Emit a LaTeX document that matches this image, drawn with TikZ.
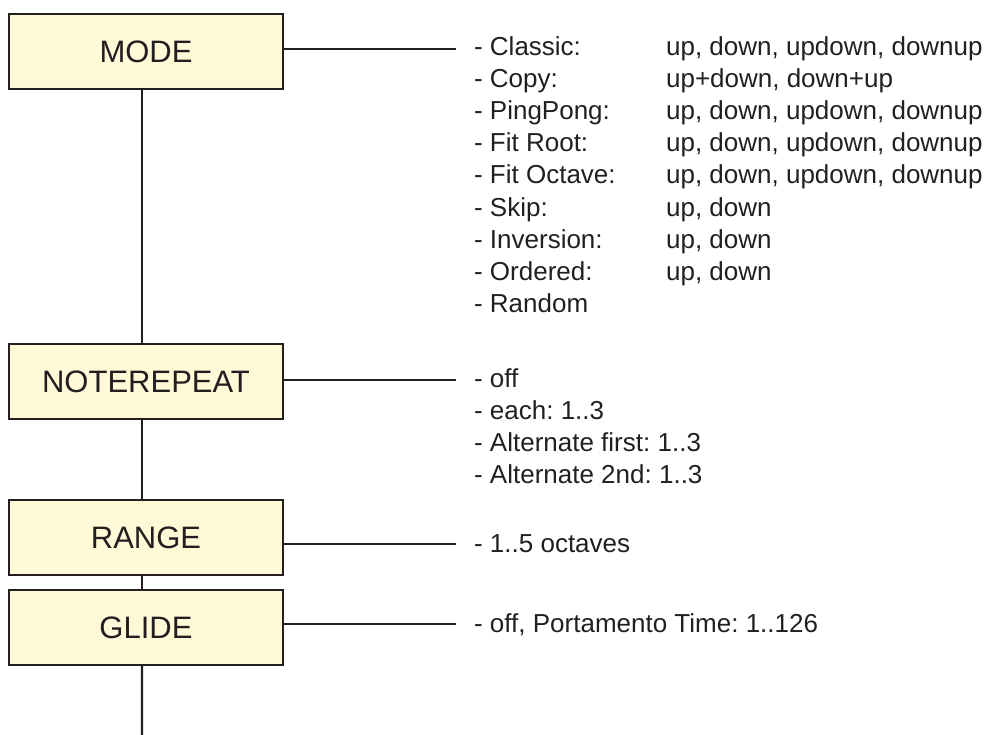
\documentclass[tikz,border=0pt]{standalone}
\usepackage{fontspec}
\setmainfont{Liberation Sans}
\frenchspacing
\definecolor{boxfill}{HTML}{FFF9D7}
\definecolor{ink}{HTML}{231F20}

\begin{document}
\begin{tikzpicture}[x=1bp,y=-1bp,line width=2.2bp,
        menubox/.style={draw=ink,fill=boxfill,line width=2.4bp,minimum width=274bp,minimum height=75bp,
                inner sep=0pt,outer sep=0pt,text=ink,font=\fontsize{31bp}{36bp}\selectfont},
        item/.style={anchor=base west,inner sep=0pt,text=ink,font=\fontsize{26bp}{32bp}\selectfont}]
    \useasboundingbox (0,0) rectangle (996,735);

    \node[menubox] (mode) at (146,51.5) {MODE};
    \node[menubox] (noterepeat) at (146,381.5) {NOTEREPEAT};
    \node[menubox] (range) at (146,537.5) {RANGE};
    \node[menubox] (glide) at (146,627.5) {GLIDE};
    \coordinate (trunkend) at (142,735);

    % trunk
    \foreach \u/\v in {mode/noterepeat,noterepeat/range,range/glide}{
            \draw[ink] ([xshift=-4bp]\u.south) -- ([xshift=-4bp]\v.north);
        }
    \draw[ink] ([xshift=-4bp]glide.south) -- (trunkend);

    % branches
    \foreach \b/\y in {mode/49,noterepeat/380,range/544,glide/624}{
            \coordinate (\b tip) at (456,\y);
            \draw[ink] (\b.east |- \b tip) -- (\b tip);
        }

    % mode list
    \foreach \k/\a/\c in {0/Classic:/{up, down, updown, downup},
            1/Copy:/{up+down, down+up},
            2/PingPong:/{up, down, updown, downup},
            3/Fit Root:/{up, down, updown, downup},
            4/Fit Octave:/{up, down, updown, downup},
            5/Skip:/{up, down},
            6/Inversion:/{up, down},
            7/Ordered:/{up, down}}{
            \node[item] (mode a\k) at (473,56+32*\k) {- \a};
            \node[item] (mode b\k) at (665,56+32*\k) {\c};
        }
    \node[item] (mode a8) at (473,312) {- Random};

    % noterepeat list
    \foreach \k/\a in {0/off,1/each: 1..3,2/Alternate first: 1..3,3/Alternate 2nd: 1..3}{
            \node[item] (noterepeat a\k) at (473,387+32*\k) {- \a};
        }

    \node[item] (range a0) at (473,552) {- 1..5 octaves};
    \node[item] (glide a0) at (473,632) {- off, Portamento Time: 1..126};
\end{tikzpicture}
\end{document}
